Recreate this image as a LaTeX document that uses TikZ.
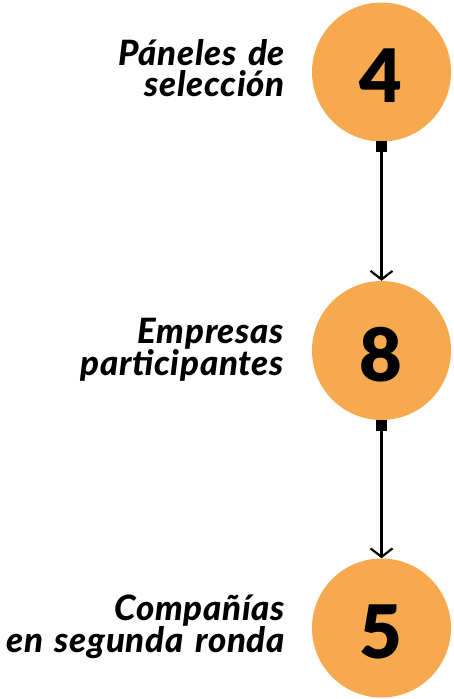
\documentclass[tikz,border=0pt]{standalone}
\usepackage{fontspec}
\setmainfont{Lato}
\newfontfamily\numfont{Lato Black}
\newfontfamily\labfont{Lato Black Italic}[LetterSpace=2,WordSpace=0.75]
\usetikzlibrary{arrows.meta}
\definecolor{circfill}{HTML}{F6A94F}
\tikzset{
  numcirc/.style={circle, fill=circfill, minimum size=139bp, inner sep=0pt},
  numtext/.style={anchor=base, inner sep=0pt, font=\numfont\fontsize{74}{74}\selectfont},
  labtext/.style={anchor=base east, inner sep=0pt, text width=300bp, align=right, font=\labfont\fontsize{35}{31}\selectfont},
  flow/.style={line width=2.2bp, {Square[length=11bp,width=11bp]}-{Straight Barb[length=8.5bp,width=22bp,line width=2.2bp]}, shorten <=-0.5bp}
}
\begin{document}
\begin{tikzpicture}[x=1bp,y=-1bp]
\useasboundingbox (0,0) rectangle (454,699);
\node[numcirc] (c1) at (381.5,72) {};
\node[numcirc] (c2) at (381.5,350.5) {};
\node[numcirc] (c3) at (381.5,628) {};
\node[numtext] (n1) at (381,103) {4};
\node[numtext] (n2) at (381,381.5) {8};
\node[numtext] (n3) at (381,658) {5};
\node[labtext] (l1) at (285,66) {Páneles de\\selección};
\node[labtext] (l2) at (284,343) {Empresas\\participantes};
\node[labtext] (l3) at (285,620) {Compañías\\en segunda ronda};
\draw[flow] (c1.south) -- (c2.north);
\draw[flow] (c2.south) -- (c3.north);
\end{tikzpicture}
\end{document}
